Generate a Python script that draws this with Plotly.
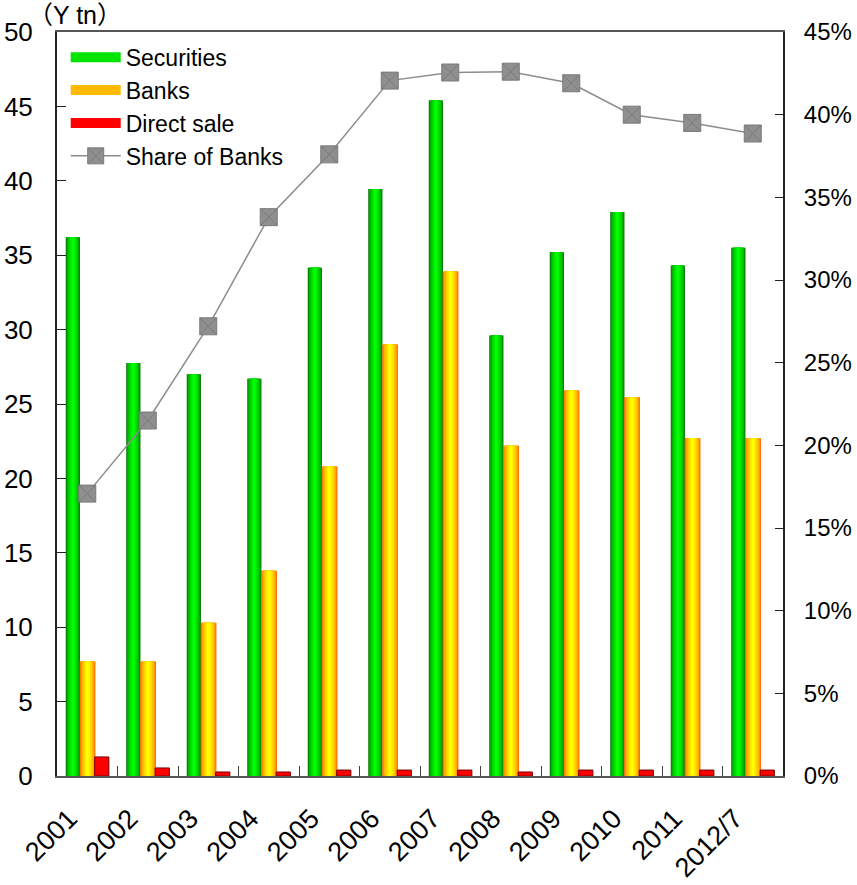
import plotly.graph_objects as go

categories = ["2001", "2002", "2003", "2004", "2005", "2006", "2007", "2008", "2009", "2010", "2011", "2012/7"]
securities = [36.2, 27.75, 27.0, 26.7, 34.15, 39.45, 45.4, 29.6, 35.2, 37.9, 34.3, 35.5]
banks = [7.7, 7.7, 10.3, 13.8, 20.8, 29.0, 33.9, 22.2, 25.9, 25.45, 22.7, 22.7]
direct_sale = [1.28, 0.54, 0.27, 0.27, 0.4, 0.4, 0.4, 0.27, 0.4, 0.4, 0.4, 0.4]
share_of_banks = [0.1708, 0.215, 0.272, 0.338, 0.376, 0.4206, 0.4255, 0.426, 0.419, 0.400, 0.395, 0.3886]

left_ticks = list(range(0, 55, 5))
right_ticks = [i / 100 for i in range(0, 50, 5)]

FONT = "Liberation Sans, Arial, sans-serif"


def lerp(c1, c2, t):
    return "rgb(%d,%d,%d)" % tuple(round(a + (b - a) * t) for a, b in zip(c1, c2))


fig = go.Figure()


def gradient_bars(name, values, center, width, edge, mid, legend_t, n=9):
    for j in range(n):
        t = (j / (n - 1)) ** 0.55
        w = width * (1 - j / n)
        color = lerp(edge, mid, t)
        fig.add_trace(go.Bar(
            x=categories, y=values, name=name,
            width=w, offset=center - w / 2,
            marker=dict(color=color, line=dict(width=0)),
            showlegend=False, hoverinfo="skip" if j else None,
            yaxis="y",
        ))
    # legend-only entry (wide swatch)
    fig.add_trace(go.Scatter(
        x=[None], y=[None], name=name, mode="lines",
        line=dict(color=lerp(edge, mid, legend_t), width=13),
        showlegend=True,
    ))


gradient_bars("Securities", securities, -0.238, 0.235, (0, 120, 0), (0, 255, 0), 0.8)
gradient_bars("Banks", banks, 0.005, 0.26, (255, 100, 0), (255, 255, 0), 0.55)

fig.add_trace(go.Bar(
    x=categories, y=direct_sale, name="Direct sale",
    width=0.235, offset=0.24 - 0.235 / 2,
    marker=dict(color="#ff0000", line=dict(color="#7a0000", width=1)),
    yaxis="y", showlegend=False,
))
fig.add_trace(go.Scatter(
    x=[None], y=[None], name="Direct sale", mode="lines",
    line=dict(color="#ff0000", width=13), showlegend=True,
))

fig.add_trace(go.Scatter(
    x=categories, y=share_of_banks, name="Share of Banks",
    mode="lines+markers", yaxis="y2",
    line=dict(color="#8c8c8c", width=1.5),
    marker=dict(symbol="square-x", size=17, color="#8f8f8f",
                line=dict(color="#7a7a7a", width=1)),
))

fig.update_layout(
    width=857, height=885,
    margin=dict(l=57, r=74, t=32, b=109, autoexpand=False),
    paper_bgcolor="white", plot_bgcolor="white",
    barmode="overlay",
    font=dict(family=FONT, color="black"),
    showlegend=True,
    legend=dict(x=0.012, y=0.995, xanchor="left", yanchor="top",
                bgcolor="rgba(0,0,0,0)", font=dict(size=23, family=FONT),
                itemwidth=50, tracegroupgap=4),
    xaxis=dict(
        type="category", categoryorder="array", categoryarray=categories,
        range=[-0.5, len(categories) - 0.5], automargin=False,
        showline=True, linecolor="#555555", linewidth=2, mirror=True,
        ticks="inside", tickson="boundaries", ticklen=10, tickcolor="#404040",
        tickangle=-45, tickfont=dict(size=27, family=FONT),
        ticklabelstandoff=14, ticklabelshift=-18,
        showgrid=False, zeroline=False,
    ),
    yaxis=dict(
        range=[0, 50], tickvals=left_ticks, automargin=False,
        showline=True, linecolor="#222222", linewidth=2, mirror=False,
        ticks="inside", ticklen=9, tickcolor="#222222",
        tickfont=dict(size=26, family=FONT), ticklabelstandoff=17,
        showgrid=False, zeroline=False,
    ),
    yaxis2=dict(
        range=[0, 0.45], tickvals=right_ticks, tickformat=".0%",
        overlaying="y", side="right", automargin=False,
        showline=True, linecolor="#222222", linewidth=2,
        ticks="inside", ticklen=8, tickcolor="#222222",
        tickfont=dict(size=24, family=FONT), ticklabelstandoff=14,
        showgrid=False, zeroline=False,
    ),
    annotations=[dict(
        text="（Y tn）", xref="paper", yref="paper", x=0, y=1,
        xanchor="center", yanchor="middle", xshift=18, yshift=17,
        showarrow=False,
        font=dict(size=25, family="Liberation Sans, Noto Sans CJK JP, sans-serif"),
    )],
)

# remove the default 8px page margin so the figure fills the window exactly
fig.write_html("out.html", config={"displayModeBar": False},
               post_script="document.body.style.margin='0';")
